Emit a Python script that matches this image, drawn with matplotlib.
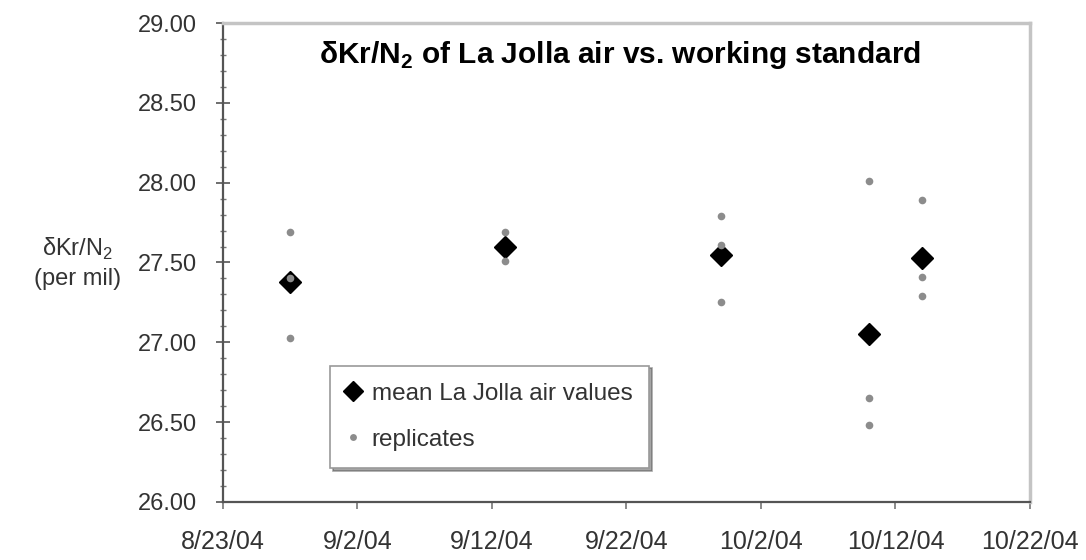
import datetime as dt
import matplotlib
matplotlib.use("Agg")
import matplotlib.pyplot as plt
import matplotlib.dates as mdates
from matplotlib.ticker import FixedLocator, MultipleLocator, FormatStrFormatter, FuncFormatter

plt.rcParams['font.family'] = ['Liberation Sans', 'DejaVu Sans']
plt.rcParams['mathtext.fontset'] = 'custom'
plt.rcParams['mathtext.rm'] = 'Liberation Sans'
plt.rcParams['mathtext.bf'] = 'Liberation Sans:bold'

# mean of each La Jolla air run
mean_dates = ['2004-08-28', '2004-09-13', '2004-09-29', '2004-10-10', '2004-10-14']
mean_vals = [27.38, 27.60, 27.55, 27.05, 27.53]

# individual replicate measurements
rep_dates = ['2004-08-28', '2004-08-28', '2004-08-28',
             '2004-09-13', '2004-09-13',
             '2004-09-29', '2004-09-29', '2004-09-29',
             '2004-10-10', '2004-10-10', '2004-10-10',
             '2004-10-14', '2004-10-14', '2004-10-14']
rep_vals = [27.69, 27.40, 27.03,
            27.69, 27.51,
            27.79, 27.61, 27.25,
            28.01, 26.65, 26.48,
            27.89, 27.41, 27.29]

tick_dates = ['2004-08-23', '2004-09-02', '2004-09-12', '2004-09-22',
              '2004-10-02', '2004-10-12', '2004-10-22']

to_num = lambda s: mdates.date2num(dt.datetime.strptime(s, '%Y-%m-%d'))

fig = plt.figure(figsize=(10.86, 5.6), dpi=100)
ax = fig.add_axes([0.2053, 0.1036, 0.7431, 0.8553])

ax.plot([to_num(d) for d in mean_dates], mean_vals, 'D', color='black',
        markersize=11, label='mean La Jolla air values', zorder=3)
ax.plot([to_num(d) for d in rep_dates], rep_vals, 'o', color='#8c8c8c',
        markersize=5.5, markeredgewidth=0, label='replicates', zorder=4)

ax.set_xlim(to_num(tick_dates[0]), to_num(tick_dates[-1]))
ax.set_ylim(26, 29)
ax.xaxis.set_major_locator(FixedLocator([to_num(d) for d in tick_dates]))
ax.xaxis.set_major_formatter(FuncFormatter(
    lambda v, pos: '{d.month}/{d.day}/{d:%y}'.format(d=mdates.num2date(v))))
ax.yaxis.set_major_locator(MultipleLocator(0.5))
ax.yaxis.set_minor_locator(MultipleLocator(0.1))
ax.yaxis.set_major_formatter(FormatStrFormatter('%.2f'))

for side in ['left', 'bottom']:
    ax.spines[side].set_color('#555555')
    ax.spines[side].set_linewidth(1.6)
for side in ['top', 'right']:
    ax.spines[side].set_color('#c4c4c4')
    ax.spines[side].set_linewidth(2.5)

ax.tick_params(axis='y', which='major', direction='inout', length=10, width=1.2,
               color='#555555', labelsize=17, labelcolor='#333333', pad=14)
ax.tick_params(axis='y', which='minor', direction='inout', length=5, width=1,
               color='#777777')
ax.tick_params(axis='x', which='major', direction='out', length=5, width=1.2,
               color='#777777', labelsize=18, labelcolor='#333333', pad=15)

ax.text(-0.18, 0.499, 'δKr/N$_2$\n(per mil)', transform=ax.transAxes,
        ha='center', va='center', multialignment='center', fontsize=17,
        color='#333333', linespacing=1.35)

ax.text(0.492, 0.933, r'δKr/N$_\mathbf{2}$ of La Jolla air vs. working standard',
        transform=ax.transAxes, ha='center', va='center',
        fontsize=21.5, fontweight='bold')

leg = ax.legend(loc='lower left', bbox_to_anchor=(0.133, 0.071),
                fontsize=17.5, frameon=True, fancybox=False, shadow=True,
                borderpad=0.7, labelspacing=1.0, handlelength=0.5,
                handletextpad=0.5, borderaxespad=0, markerscale=0.9)
leg.get_frame().set_edgecolor('#999999')
leg.get_frame().set_linewidth(1.2)
for t in leg.get_texts():
    t.set_color('#333333')

fig.savefig('out.png', dpi=100)
